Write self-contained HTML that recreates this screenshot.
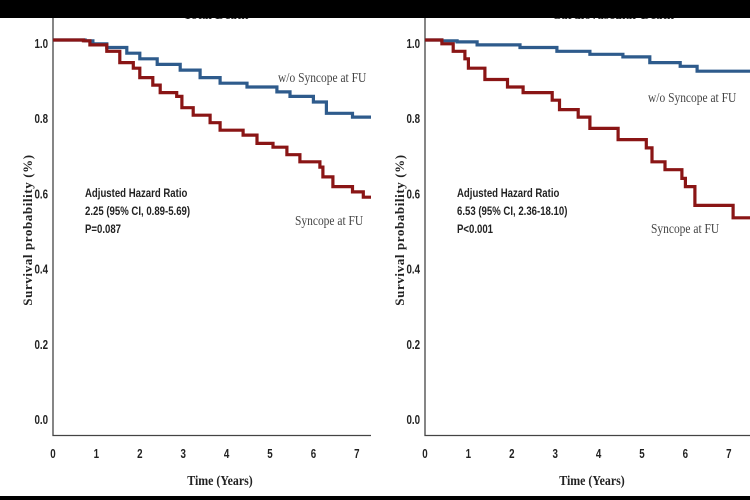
<!DOCTYPE html>
<html><head><meta charset="utf-8"><style>
html,body{margin:0;padding:0;background:#fff}
svg{display:block}
.tk{font-family:"Liberation Sans",sans-serif;font-weight:bold;font-size:13px;fill:#222}
.ax{font-family:"Liberation Serif",serif;font-weight:bold;fill:#222}
.lab{font-family:"Liberation Serif",serif;font-size:14px;fill:#444}
.ann{font-family:"Liberation Sans",sans-serif;font-weight:bold;font-size:12px;fill:#222}
</style></head><body>
<svg id="c" width="750" height="500" viewBox="0 0 750 500" xmlns="http://www.w3.org/2000/svg"></svg>
<script>
const xTicks=[0,1,2,3,4,5,6,7];
const yTicks=[0.0,0.2,0.4,0.6,0.8,1.0];
const totalBlueT=[0.74,0.92,1.24,1.7,2.0,2.4,2.93,3.39,3.85,4.47,5.16,5.46,6.0,6.3,6.9];
const totalBlueV=[0.998,0.99,0.98,0.965,0.95,0.935,0.92,0.90,0.885,0.875,0.862,0.85,0.835,0.805,0.795];
const totalRedT=[0.7,0.85,1.24,1.54,1.85,2.0,2.3,2.47,2.85,2.97,3.23,3.62,3.85,4.38,4.7,5.07,5.39,5.69,6.15,6.22,6.45,6.9,7.15];
const totalRedV=[0.998,0.987,0.97,0.94,0.925,0.9,0.88,0.86,0.85,0.82,0.80,0.78,0.76,0.747,0.725,0.715,0.695,0.676,0.662,0.636,0.61,0.596,0.582];
const cvBlueT=[0.39,0.74,1.2,2.19,3.04,3.8,4.56,5.18,5.88,6.27];
const cvBlueV=[0.998,0.995,0.987,0.98,0.97,0.962,0.955,0.94,0.93,0.917];
const cvRedT=[0.39,0.65,0.92,1.0,1.38,1.9,2.26,2.93,3.1,3.53,3.8,4.45,5.1,5.23,5.53,5.92,6.0,6.22,7.1];
const cvRedV=[0.99,0.97,0.95,0.925,0.895,0.875,0.86,0.84,0.815,0.795,0.765,0.735,0.713,0.676,0.655,0.632,0.61,0.56,0.527];
const NS="http://www.w3.org/2000/svg";
const svg=document.getElementById('c');
function mk(tag,attrs,parent){const e=document.createElementNS(NS,tag);for(const k in attrs)e.setAttribute(k,attrs[k]);(parent||svg).appendChild(e);return e;}
const BLUE="#2e5b8c", RED="#8a1515";
function panel(opt){
  const g=mk('g',{});
  
  
  const x=t=>opt.x0+t*43.4, y=v=>416-v*376;
  const tmax=(opt.xEnd-opt.x0)/43.4;
  const ti=mk('text',{x:opt.tx,y:19,'text-anchor':'middle',class:'ax','font-size':'13'},g);ti.textContent=opt.title;
  
  const ax=mk('path',{d:`M${opt.x0} 18 V435.5 H${opt.xEnd}`,fill:'none',stroke:'#444','stroke-width':'1.3'},g);
  
  xTicks.forEach(t=>{const e=mk('text',{x:x(t),y:458,'text-anchor':'middle',class:'tk',transform:`translate(${x(t)} 0) scale(0.75 1) translate(${-x(t)} 0)`},g);e.textContent=t;
    });
  yTicks.forEach(v=>{const e=mk('text',{x:opt.x0-5,y:y(v)+8,'text-anchor':'end',class:'tk',transform:`translate(${opt.x0-5} 0) scale(0.75 1) translate(${-(opt.x0-5)} 0)`},g);e.textContent=v.toFixed(1);
    });
  const yt=mk('text',{x:0,y:0,'text-anchor':'middle',class:'ax','font-size':'13',transform:`translate(${opt.x0-21} 230) rotate(-90)`,'letter-spacing':'0.6'},g);yt.textContent='Survival probability (%)';
  
  const xt=mk('text',{x:opt.x0+167,y:485,'text-anchor':'middle',class:'ax','font-size':'14',transform:`translate(${opt.x0+167} 0) scale(0.85 1) translate(${-(opt.x0+167)} 0)`},g);xt.textContent='Time (Years)';
  
  function curve(T,V,col,nm){
    let d=`M${x(0)} ${y(1)}`;
    for(let i=0;i<T.length;i++){d+=` H${x(T[i]).toFixed(1)} V${y(V[i]).toFixed(1)}`;}
    d+=` H${x(tmax)}`;
    const p=mk('path',{d:d,fill:'none',stroke:col,'stroke-width':'3.2'},g);
    
  }
  curve(opt.bT,opt.bV,BLUE,'curve-no-syncope');
  curve(opt.rT,opt.rV,RED,'curve-syncope');
  const l1=mk('text',{x:opt.l1[0],y:opt.l1[1],class:'lab',transform:`translate(${opt.l1[0]} 0) scale(0.82 1) translate(${-opt.l1[0]} 0)`},g);l1.textContent='w/o Syncope at FU';
  
  const l2=mk('text',{x:opt.l2[0],y:opt.l2[1],class:'lab',transform:`translate(${opt.l2[0]} 0) scale(0.82 1) translate(${-opt.l2[0]} 0)`},g);l2.textContent='Syncope at FU';
  
  opt.ann.forEach((s,i)=>{const e=mk('text',{x:opt.ax,y:197+i*18,class:'ann',transform:`translate(${opt.ax} 0) scale(0.8 1) translate(${-opt.ax} 0)`},g);e.textContent=s;
    });
}
panel({name:'total-death-panel',title:'Total Death',tx:216,x0:53,xEnd:371,bT:totalBlueT,bV:totalBlueV,rT:totalRedT,rV:totalRedV,
  l1:[278,82],l2:[295,225],ax:85,ann:['Adjusted Hazard Ratio','2.25 (95% CI, 0.89-5.69)','P=0.087']});
panel({name:'cardiovascular-death-panel',title:'Cardiovascular Death',tx:613,x0:425,xEnd:750,bT:cvBlueT,bV:cvBlueV,rT:cvRedT,rV:cvRedV,
  l1:[648,102],l2:[651,233],ax:457,ann:['Adjusted Hazard Ratio','6.53 (95% CI, 2.36-18.10)','P<0.001']});
const tb=mk('rect',{x:0,y:0,width:750,height:18,fill:'#000'});

const bb=mk('rect',{x:0,y:496,width:750,height:4,fill:'#000'});

</script>
</body></html>
